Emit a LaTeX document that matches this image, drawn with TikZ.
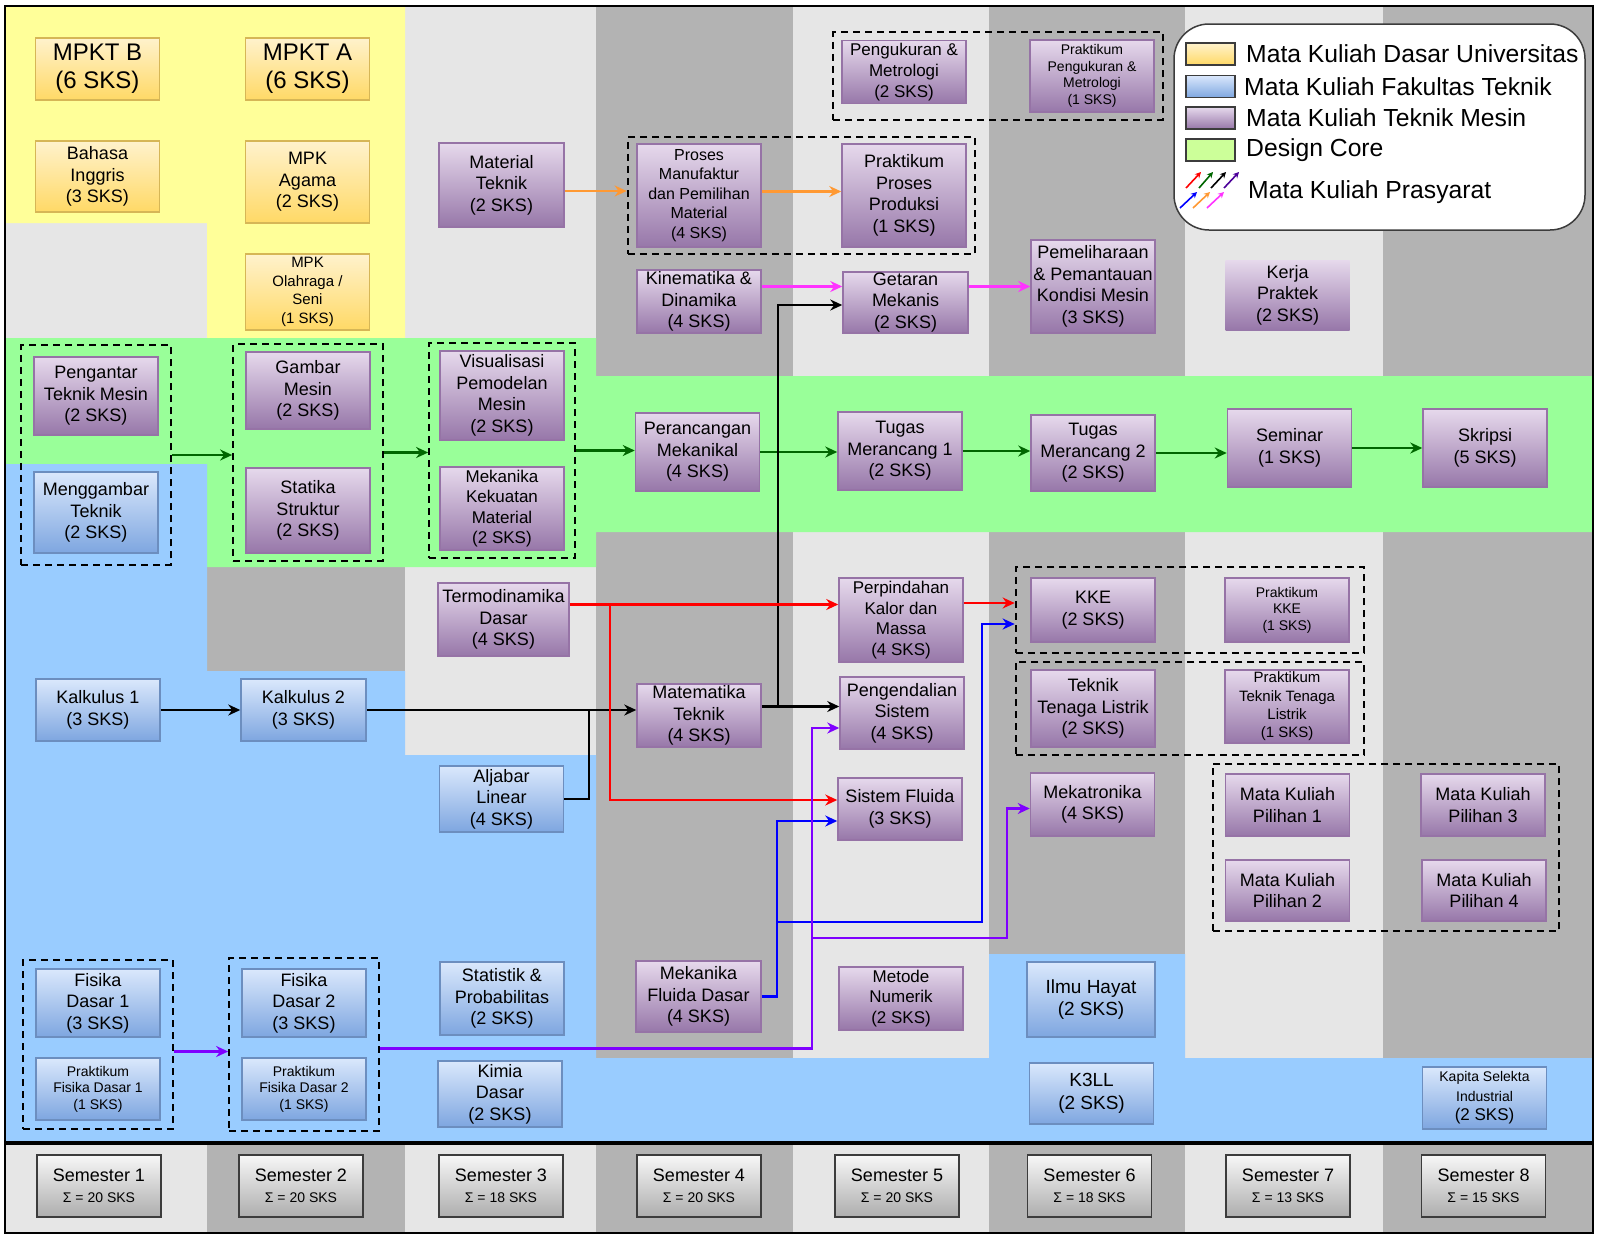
\documentclass[tikz,border=0pt]{standalone}
\usepackage{fontspec}
\setmainfont{Liberation Sans}
\usepackage{xcolor}
\usepackage{tikz}
\usetikzlibrary{arrows.meta,fit}
\definecolor{LightGray}{HTML}{E6E6E6}
\definecolor{DarkGray}{HTML}{B3B3B3}
\definecolor{BgYellow}{HTML}{FFFF99}
\definecolor{BgGreen}{HTML}{99FF99}
\definecolor{BgBlue}{HTML}{99CCFF}
\definecolor{UnivTop}{HTML}{FFF2CC}
\definecolor{UnivBot}{HTML}{FFD966}
\definecolor{UnivLine}{HTML}{D6B656}
\definecolor{FakTop}{HTML}{DAE8FC}
\definecolor{FakBot}{HTML}{7EA6E0}
\definecolor{FakLine}{HTML}{6C8EBF}
\definecolor{MesinTop}{HTML}{E6D9EC}
\definecolor{MesinBot}{HTML}{9777A9}
\definecolor{MesinLine}{HTML}{9673A6}
\definecolor{SemTop}{HTML}{F7F7F7}
\definecolor{SemBot}{HTML}{ADADAD}
\definecolor{SemLine}{HTML}{3C3C3C}
\definecolor{CoreGreen}{HTML}{CCFF99}
\definecolor{ArrOrange}{HTML}{FF9933}
\definecolor{ArrPink}{HTML}{FF33FF}
\definecolor{ArrGreen}{HTML}{006600}
\definecolor{ArrRed}{HTML}{FF0000}
\definecolor{ArrBlue}{HTML}{0000FF}
\definecolor{ArrViolet}{HTML}{7F00FF}
\definecolor{ArrIndigo}{HTML}{4C0099}

\begin{document}
\begin{tikzpicture}[
  x=1pt, y=-1pt,
  course/.style={rectangle, align=center, inner sep=1pt, minimum width=124pt, minimum height=#1, font=\fontsize{18}{21.5}\selectfont},
  univ/.style={course=#1, draw=UnivLine, line width=1.5pt, top color=UnivTop, bottom color=UnivBot},
  fak/.style={course=#1, draw=FakLine, line width=1.5pt, top color=FakTop, bottom color=FakBot},
  mesin/.style={course=#1, draw=MesinLine, line width=1.5pt, top color=MesinTop, bottom color=MesinBot},
  semtr/.style={course=62pt, draw=SemLine, line width=1.6pt, top color=SemTop, bottom color=SemBot},
  smalltext/.style={font=\fontsize{14}{16.5}\selectfont},
  grpbox/.style={draw=black, line width=2.2pt, dash pattern=on 7pt off 5pt},
  arrow/.style={-{Stealth[length=12pt,width=11pt]}, line width=2.2pt, draw=#1},
  legarrow/.style={-{Stealth[length=6pt,width=6pt]}, line width=1.6pt, draw=#1},
  swatch/.style={draw=SemLine, line width=1.5pt, minimum width=49pt, minimum height=22pt},
  legtext/.style={anchor=west, inner sep=0pt, font=\fontsize{24.7}{28}\selectfont}
]

\useasboundingbox (0,0) rectangle (1600,1242);

\fill[LightGray] (5,6) rectangle (207,1233);
\fill[DarkGray] (207,6) rectangle (405,1233);
\fill[LightGray] (405,6) rectangle (596,1233);
\fill[DarkGray] (596,6) rectangle (793,1233);
\fill[LightGray] (793,6) rectangle (989,1233);
\fill[DarkGray] (989,6) rectangle (1185,1233);
\fill[LightGray] (1185,6) rectangle (1383,1233);
\fill[DarkGray] (1383,6) rectangle (1593,1233);
\fill[BgYellow] (5,6) rectangle (405,223) (207,223) rectangle (405,338);
\fill[BgGreen] (5,338) rectangle (596,567) (596,376) rectangle (1593,532);
\fill[BgBlue] (5,464) rectangle (207,1143) (207,671) rectangle (405,1143) (405,755) rectangle (596,1143)
  (596,1058) rectangle (989,1143) (989,954) rectangle (1185,1143) (1185,1058) rectangle (1593,1143);
\draw[line width=4pt] (5,1143) -- (1593,1143);
\draw[line width=2.5pt] (5,6) rectangle (1593,1233);

\node[univ=62pt, font=\fontsize{24}{28}\selectfont] (mpktb) at (97.5,69) {MPKT B\\(6 SKS)};
\node[univ=62pt, font=\fontsize{24}{28}\selectfont] (mpkta) at (307.5,69) {MPKT A\\(6 SKS)};
\node[univ=71pt] (bing) at (97.5,176.5) {Bahasa\\Inggris\\(3 SKS)};
\node[univ=82pt] (agama) at (307.5,182) {MPK\\Agama\\(2 SKS)};
\node[univ=76pt, font=\fontsize{15}{18.5}\selectfont] (olga) at (307.5,292) {MPK\\Olahraga /\\Seni\\(1 SKS)};

\node[mesin=78pt] (ptm) at (96,396) {Pengantar\\Teknik Mesin\\(2 SKS)};
\node[fak=81pt] (mgt) at (96,512.5) {Menggambar\\Teknik\\(2 SKS)};
\node[mesin=77pt] (gmes) at (308,390.5) {Gambar\\Mesin\\(2 SKS)};
\node[mesin=85pt] (stst) at (308,510.5) {Statika\\Struktur\\(2 SKS)};
\node[mesin=89pt] (vpm) at (502,395.5) {Visualisasi\\Pemodelan\\Mesin\\(2 SKS)};
\node[mesin=83pt, font=\fontsize{17}{20.5}\selectfont] (mkm) at (502,508.5) {Mekanika\\Kekuatan\\Material\\(2 SKS)};
\node[mesin=84pt, minimum width=125pt] (mattek) at (501.5,185) {Material\\Teknik\\(2 SKS)};
\node[mesin=73pt, minimum width=131pt] (termo) at (503.5,619.5) {Termodinamika\\Dasar\\(4 SKS)};

\node[mesin=103pt, font=\fontsize{16}{19.6}\selectfont] (pmpm) at (699,195.5) {Proses\\Manufaktur\\dan Pemilihan\\Material\\(4 SKS)};
\node[mesin=103pt] (ppp) at (904,195.5) {Praktikum\\Proses\\Produksi\\(1 SKS)};
\node[mesin=63pt, font=\fontsize{17}{20.8}\selectfont] (pgm) at (904,72) {Pengukuran \&\\Metrologi\\(2 SKS)};
\node[mesin=72pt, smalltext] (ppgm) at (1092,76) {Praktikum\\Pengukuran \&\\Metrologi\\(1 SKS)};
\node[mesin=63pt] (kin) at (699,301.5) {Kinematika \&\\Dinamika\\(4 SKS)};
\node[mesin=61pt, minimum width=125pt] (getm) at (905.5,302.5) {Getaran\\Mekanis\\(2 SKS)};
\node[mesin=93pt] (pkm) at (1093,286.5) {Pemeliharaan\\\& Pemantauan\\Kondisi Mesin\\(3 SKS)};
\node[mesin=70pt, draw=none] (kp) at (1287.5,295) {Kerja\\Praktek\\(2 SKS)};

\node[mesin=78pt] (pmek) at (697.5,452) {Perancangan\\Mekanikal\\(4 SKS)};
\node[mesin=78pt] (tmr1) at (900,451) {Tugas\\Merancang 1\\(2 SKS)};
\node[mesin=76pt] (tmr2) at (1093,453) {Tugas\\Merancang 2\\(2 SKS)};
\node[mesin=78pt] (smnr) at (1289.5,448) {Seminar\\(1 SKS)};
\node[mesin=78pt] (skrp) at (1485,448) {Skripsi\\(5 SKS)};

\node[mesin=84pt, font=\fontsize{17}{20.8}\selectfont] (pkmassa) at (901,620) {Perpindahan\\Kalor dan\\Massa\\(4 SKS)};
\node[mesin=64pt] (kke) at (1093,610) {KKE\\(2 SKS)};
\node[mesin=64pt, smalltext] (pkke) at (1287,610) {Praktikum\\KKE\\(1 SKS)};
\node[mesin=77pt] (ttl) at (1093,708.5) {Teknik\\Tenaga Listrik\\(2 SKS)};
\node[mesin=73pt, font=\fontsize{15}{18.3}\selectfont] (pttl) at (1287,706.5) {Praktikum\\Teknik Tenaga\\Listrik\\(1 SKS)};
\node[mesin=63pt] (mtk) at (699,715.5) {Matematika\\Teknik\\(4 SKS)};
\node[mesin=72pt] (pens) at (902,713) {Pengendalian\\Sistem\\(4 SKS)};
\node[mesin=62pt] (sfl) at (900,809) {Sistem Fluida\\(3 SKS)};
\node[mesin=63pt] (mktr) at (1092.5,804.5) {Mekatronika\\(4 SKS)};
\node[mesin=62pt] (mkp1) at (1287.5,805) {Mata Kuliah\\Pilihan 1};
\node[mesin=62pt] (mkp3) at (1483,805) {Mata Kuliah\\Pilihan 3};
\node[mesin=61pt] (mkp2) at (1287.5,890.5) {Mata Kuliah\\Pilihan 2};
\node[mesin=61pt] (mkp4) at (1484,890.5) {Mata Kuliah\\Pilihan 4};
\node[mesin=71pt, minimum width=125pt] (mfd) at (698.5,996.5) {Mekanika\\Fluida Dasar\\(4 SKS)};
\node[mesin=63pt, font=\fontsize{17}{20.7}\selectfont] (mnum) at (901,998.5) {Metode\\Numerik\\(2 SKS)};

\node[fak=62pt] (kal1) at (98,710) {Kalkulus 1\\(3 SKS)};
\node[fak=62pt, minimum width=125pt] (kal2) at (303.5,710) {Kalkulus 2\\(3 SKS)};
\node[fak=66pt] (aljl) at (501.5,799) {Aljabar\\Linear\\(4 SKS)};
\node[fak=68pt] (fsd1) at (98,1003) {Fisika\\Dasar 1\\(3 SKS)};
\node[fak=62pt, smalltext] (pfd1) at (98,1089) {Praktikum\\Fisika Dasar 1\\(1 SKS)};
\node[fak=68pt] (fsd2) at (304,1003) {Fisika\\Dasar 2\\(3 SKS)};
\node[fak=62pt, smalltext] (pfd2) at (304,1089) {Praktikum\\Fisika Dasar 2\\(1 SKS)};
\node[fak=73pt] (stpr) at (502,998.5) {Statistik \&\\Probabilitas\\(2 SKS)};
\node[fak=66pt] (kimd) at (500,1094) {Kimia\\Dasar\\(2 SKS)};
\node[fak=75pt, minimum width=128pt, font=\fontsize{19}{22.5}\selectfont] (ilmh) at (1091,999.5) {Ilmu Hayat\\(2 SKS)};
\node[fak=61pt, font=\fontsize{19}{22.5}\selectfont] (k3ll) at (1091.5,1093.5) {K3LL\\(2 SKS)};
\node[fak=62pt, font=\fontsize{17}{19.5}\selectfont] (kpsi) at (1484.5,1098) {{\fontsize{14}{16.5}\selectfont Kapita Selekta}\\{\fontsize{14}{16.5}\selectfont Industrial}\\(2 SKS)};

\node[semtr] (sem1) at (99,1186) {Semester 1\\{\fontsize{14}{16}\selectfont Σ = 20 SKS}};
\node[semtr] (sem2) at (301,1186) {Semester 2\\{\fontsize{14}{16}\selectfont Σ = 20 SKS}};
\node[semtr] (sem3) at (501,1186) {Semester 3\\{\fontsize{14}{16}\selectfont Σ = 18 SKS}};
\node[semtr] (sem4) at (699,1186) {Semester 4\\{\fontsize{14}{16}\selectfont Σ = 20 SKS}};
\node[semtr] (sem5) at (897,1186) {Semester 5\\{\fontsize{14}{16}\selectfont Σ = 20 SKS}};
\node[semtr] (sem6) at (1089.5,1186) {Semester 6\\{\fontsize{14}{16}\selectfont Σ = 18 SKS}};
\node[semtr] (sem7) at (1288,1186) {Semester 7\\{\fontsize{14}{16}\selectfont Σ = 13 SKS}};
\node[semtr] (sem8) at (1483.5,1186) {Semester 8\\{\fontsize{14}{16}\selectfont Σ = 15 SKS}};

\node[grpbox, fit=(ptm)(mgt), inner xsep=12pt, inner ysep=11pt] (g1) {};
\node[grpbox, fit=(gmes)(stst), inner xsep=12pt, inner ysep=7pt] (g2) {};
\node[grpbox, fit=(vpm)(mkm), inner xsep=10pt, inner ysep=7.5pt] (g3) {};
\node[grpbox, fit=(pmpm)(ppp), inner xsep=8.5pt, inner ysep=6pt] (gpm) {};
\node[grpbox, fit=(pgm)(ppgm), inner xsep=8pt, inner ysep=7pt] (gpgm) {};
\node[grpbox, fit=(kke)(pkke), inner xsep=14.5pt, inner ysep=10pt] (gkke) {};
\node[grpbox, fit=(ttl)(pttl), inner xsep=14.5pt, inner ysep=7.5pt] (gttl) {};
\node[grpbox, fit=(mkp1)(mkp4), inner xsep=12pt, inner ysep=9.5pt] (gmkp) {};
\node[grpbox, fit=(fsd1)(pfd1), inner xsep=12pt, inner ysep=8.5pt] (gfd1) {};
\node[grpbox, fit=(fsd2)(pfd2), inner xsep=12pt, inner ysep=10.5pt] (gfd2) {};

\draw[arrow=ArrGreen] (g1.east) -- (g1.east -| g2.west);
\draw[arrow=ArrGreen] (g2.east) -- (g2.east -| g3.west);
\draw[arrow=ArrGreen] (g3.east) -- (g3.east -| pmek.west);
\draw[arrow=ArrGreen] (pmek.east) -- (pmek.east -| tmr1.west);
\draw[arrow=ArrGreen] (tmr1.east) -- (tmr1.east -| tmr2.west);
\draw[arrow=ArrGreen] (tmr2.east) -- (tmr2.east -| smnr.west);
\draw[arrow=ArrGreen] (smnr.east) -- (skrp.west);

\draw[arrow=ArrOrange] ([yshift=-6pt]mattek.east) -- ([yshift=-6pt]mattek.east -| gpm.west);
\draw[arrow=ArrOrange] ([yshift=4pt]pmpm.east) -- ([yshift=4pt]pmpm.east -| ppp.west);
\draw[arrow=ArrPink] ([yshift=15pt]kin.east) -- ([yshift=15pt]kin.east -| getm.west);
\draw[arrow=ArrPink] (getm.east |- pkm.west) -- (pkm.west);

\coordinate (jal) at (589,710);
\coordinate (jmt) at (778,706.5);
\draw[arrow=black] (kal1) -- (kal2);
\draw[arrow=black] (kal2.east) -- (kal2.east -| mtk.west);
\draw[line width=2.2pt] (aljl.east) -| (jal);
\draw[arrow=black] ([yshift=9pt]mtk.east) -- ([yshift=9pt]mtk.east -| pens.west);
\draw[arrow=black] (jmt) |- ([yshift=-2.5pt]getm.west);

\coordinate (jtr) at (610,604.5);
\draw[arrow=ArrRed] ([yshift=15pt]termo.east) -- ([yshift=15pt]termo.east -| pkmassa.west);
\draw[arrow=ArrRed] (jtr) |- ([yshift=9pt]sfl.west);
\draw[arrow=ArrRed] ([yshift=17pt]pkmassa.east) -- ([yshift=17pt]pkmassa.east -| gkke.west);

\coordinate (jb1) at (777,922);
\coordinate (jb2) at (982,922);
\draw[arrow=ArrBlue] (mfd.east) -| (jb1) |- ([yshift=-12pt]sfl.west);
\draw[arrow=ArrBlue] (jb1) -- (jb2) |- ([yshift=-14pt]gkke.west);

\coordinate (jp1) at (812,938);
\coordinate (jp2) at (1007,938);
\draw[arrow=ArrViolet] ([yshift=-7pt]gfd1.east) -- ([yshift=-7pt]gfd1.east -| gfd2.west);
\draw[arrow=ArrViolet] ([yshift=-4pt]gfd2.east) -| (jp1) |- ([yshift=-15pt]pens.west);
\draw[arrow=ArrViolet] (jp1) -- (jp2) |- ([yshift=-4pt]mktr.west);

\node[draw=SemLine, line width=1.5pt, fill=white, rounded corners=35pt, minimum width=411pt, minimum height=206pt] (leg) at (1379.5,127) {};
\node[swatch, top color=UnivTop, bottom color=UnivBot] (sw1) at (1210.5,54) {};
\node[swatch, top color=FakTop, bottom color=FakBot] (sw2) at (1210.5,86.5) {};
\node[swatch, top color=MesinTop, bottom color=MesinBot] (sw3) at (1210.5,118) {};
\node[swatch, fill=CoreGreen] (sw4) at (1210.5,150) {};
\node[legtext] (lt1) at (1246,54) {Mata Kuliah Dasar Universitas};
\node[legtext] (lt2) at (1244,86.5) {Mata Kuliah Fakultas Teknik};
\node[legtext] (lt3) at (1246,118) {Mata Kuliah Teknik Mesin};
\node[legtext] (lt4) at (1246,150) {Design Core};
\node[legtext] (lt5) at (1248,192) {Mata Kuliah Prasyarat};
\draw[legarrow=ArrRed] (1186,188) -- (1201,172);
\draw[legarrow=ArrGreen] (1199,188) -- (1213,172);
\draw[legarrow=black] (1211,188) -- (1226,172);
\draw[legarrow=ArrIndigo] (1224,188) -- (1239,172);
\draw[legarrow=ArrBlue] (1180,208) -- (1197,192);
\draw[legarrow=ArrOrange] (1193,208) -- (1210,192);
\draw[legarrow=ArrPink] (1207,208) -- (1224,192);
\end{tikzpicture}
\end{document}
